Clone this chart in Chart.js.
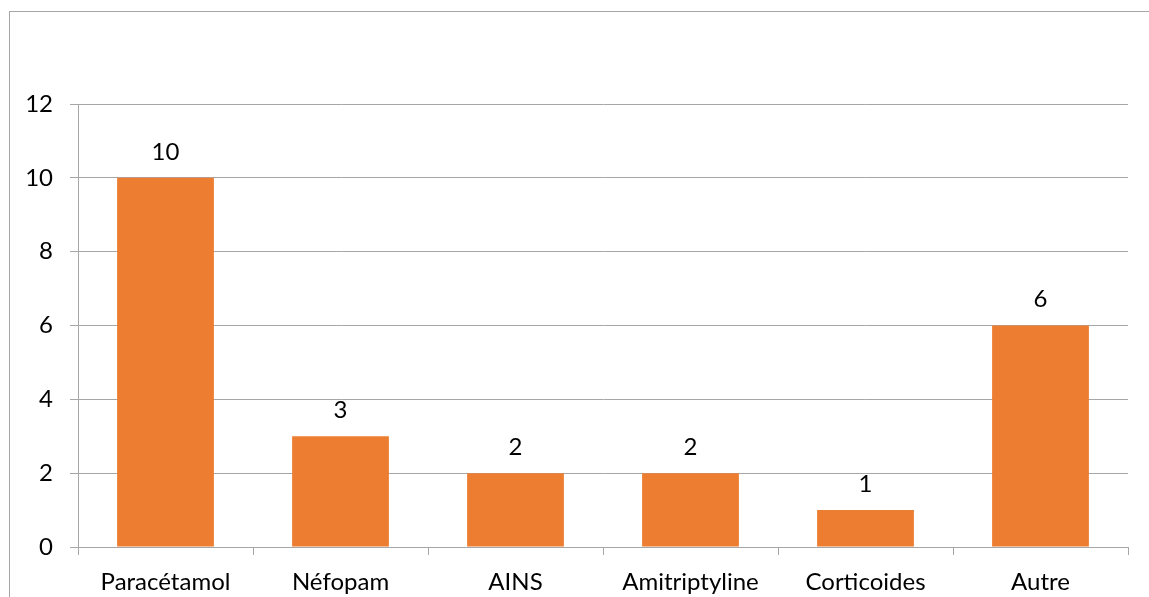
<!DOCTYPE html>
<html><head><meta charset="utf-8">
<script src="https://cdn.jsdelivr.net/npm/chart.js@4/dist/chart.umd.min.js"></script>
<style>
html,body{margin:0;padding:0;background:#fff;overflow:hidden;}
#frame{position:absolute;left:9px;top:11px;width:2000px;height:2000px;border:1px solid #a6a6a6;box-sizing:border-box;}
#wrap{position:absolute;left:0;top:0;width:1149px;height:597px;}
</style></head>
<body>
<div id="frame"></div>
<div id="wrap"><canvas id="c" width="1149" height="597"></canvas></div>
<script>
const categories = ["Paracétamol","Néfopam","AINS","Amitriptyline","Corticoides","Autre"];
const values = [10,3,2,2,1,6];
const yTicks = [0,2,4,6,8,10,12];

const FONT = "Lato, 'Open Sans', 'Liberation Sans', sans-serif";
const FS = 24;

const labelPlugin = {
  id:'barLabels',
  afterDatasetsDraw(chart){
    const ctx = chart.ctx;
    const meta = chart.getDatasetMeta(0);
    ctx.save();
    ctx.font = FS + "px " + FONT;
    ctx.fillStyle = "#000";
    ctx.textAlign = "center";
    ctx.textBaseline = "middle";
    meta.data.forEach((bar,i)=>{
      ctx.fillText(String(values[i]), bar.x, bar.y - 26);
    });
    ctx.restore();
  }
};

new Chart(document.getElementById('c'), {
  type:'bar',
  data:{labels:categories, datasets:[{data:values, backgroundColor:'#ED7D31', categoryPercentage:1, barPercentage:0.553}]},
  options:{
    responsive:false, animation:false,
    layout:{padding:{left:0,right:21,top:104,bottom:0}},
    plugins:{legend:{display:false}, tooltip:{enabled:false}},
    scales:{
      x:{
        grid:{offset:true, drawOnChartArea:false, tickLength:8, color:'#a6a6a6', lineWidth:1},
        border:{display:true,color:'#a6a6a6',width:1},
        ticks:{font:{family:FONT,size:FS}, color:'#000', padding:13, maxRotation:0},
        afterFit(s){ s.height = 50; }
      },
      y:{
        min:0,max:12,
        afterBuildTicks(s){ s.ticks = yTicks.map(v=>({value:v})); },
        grid:{color:'#a6a6a6', tickLength:8, lineWidth:1},
        border:{display:true,color:'#a6a6a6',width:1},
        ticks:{font:{family:FONT,size:FS}, color:'#000', padding:17},
        afterFit(s){ s.width = 78; }
      }
    }
  },
  plugins:[labelPlugin]
});
</script>
</body></html>
